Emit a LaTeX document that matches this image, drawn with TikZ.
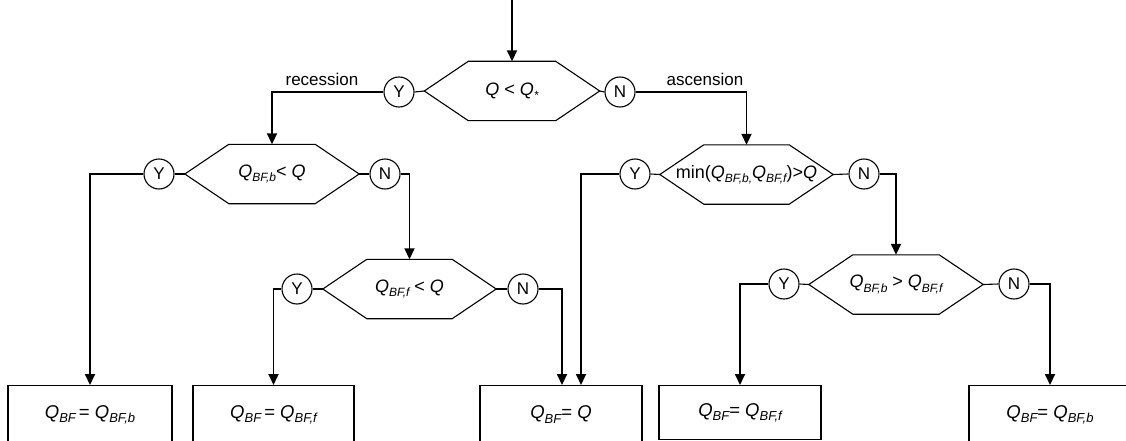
\documentclass[tikz,border=0pt]{standalone}
\usepackage{fontspec}
\setmainfont{Liberation Sans}
\usetikzlibrary{arrows.meta,calc}
\newcommand\sbt[1]{\raisebox{-0.45ex}{\fontsize{12}{12}\selectfont\itshape #1}}
\newcommand\sbb[1]{\raisebox{-0.45ex}{\fontsize{13}{13}\selectfont\itshape #1}}
\newcommand\Qi{\textit{Q}}
\newcommand\hexagon[5]{%
  \node[hexnode=#4] (#1) at (#2,#3) {#5};
  \draw[shapeline] (#1.west) -- ([xshift=44pt]#1.north west) -- ([xshift=-44pt]#1.north east)
    -- (#1.east) -- ([xshift=-44pt]#1.south east) -- ([xshift=44pt]#1.south west) -- cycle;}
\begin{document}
\begin{tikzpicture}[x=1pt,y=-1pt,
  shapeline/.style={line width=1.1pt},
  hexnode/.style={minimum width=#1, minimum height=59pt, inner sep=0pt, font=\fontsize{18}{18}\selectfont},
  yn/.style={circle, draw, line width=1.1pt, minimum size=30pt, inner sep=0pt, font=\fontsize{17}{17}\selectfont},
  res/.style={rectangle, draw, line width=1.3pt, minimum width=#1, inner sep=0pt, anchor=north, font=\fontsize{18.5}{18.5}\selectfont},
  conn/.style={line width=1.8pt},
  arr/.style={conn, -{Triangle[length=11pt,width=10pt]}},
  lbl/.style={font=\fontsize{17}{17}\selectfont}
]
\clip (0,0) rectangle (1126,441);

% decisions
\hexagon{h1}{512}{91}{175}{\Qi\ <\ \Qi\sbt{*}}
\hexagon{h2}{272}{174}{174}{\Qi\sbt{BF,b}< \Qi}
\hexagon{h3}{409.5}{289}{173}{\Qi\sbt{BF,f} < \Qi}
\hexagon{h4}{746.5}{174.5}{173}{min(\Qi\sbt{BF,b,}\Qi\sbt{BF,f})>\Qi}
\hexagon{h5}{896}{284.5}{174}{\Qi\sbt{BF,b} > \Qi\sbt{BF,f}}

% Y / N markers
\node[yn] (y1) at (399,92) {Y};
\node[yn] (n1) at (620,92) {N};
\node[yn] (y2) at (159,174) {Y};
\node[yn] (n2) at (385,174) {N};
\node[yn] (y3) at (297,289) {Y};
\node[yn] (n3) at (523,289) {N};
\node[yn] (y4) at (635,174) {Y};
\node[yn] (n4) at (864,174) {N};
\node[yn] (y5) at (784,284) {Y};
\node[yn] (n5) at (1014,284) {N};

% short links marker - hexagon
\foreach \a/\b in {y1/h1,y2/h2,y3/h3,y4/h4,y5/h5}{\draw[shapeline] (\a.east) -- (\b.west);}
\foreach \a/\b in {n1/h1,n2/h2,n3/h3,n4/h4,n5/h5}{\draw[shapeline] (\b.east) -- (\a.west);}

% results
\node[res=164, minimum height=58pt] (b1) at (90,385) {\Qi\sbb{BF}\,= \Qi\sbb{BF,b}};
\node[res=161, minimum height=58pt] (b2) at (273.5,385) {\Qi\sbb{BF}\,= \Qi\sbb{BF,f}};
\node[res=162, minimum height=58pt] (b3) at (561,385) {\Qi\sbb{BF}= \Qi};
\node[res=162, minimum height=54pt] (b4) at (740,385) {\Qi\sbb{BF}= \Qi\sbb{BF,f}};
\node[res=162, minimum height=58pt] (b5) at (1050,385) {\Qi\sbb{BF}= \Qi\sbb{BF,b}};

% connectors
\coordinate (start) at (512,0);
\draw[arr] (start) -- (h1.north);
\draw[arr] (y1.west) -| (h2.north);
\draw[arr] (n1.east) -| (h4.north);
\node[lbl] (rec) at (322,79) {recession};
\node[lbl] (asc) at (705,79) {ascension};
\draw[arr] (y2.west) -| (b1.north);
\draw[arr] (n2.east) -| (h3.north);
\draw[arr] (y3.west) -| (b2.north);
\draw[arr] (n3.east) -| ([xshift=1pt]b3.north);
\draw[arr] (y4.west) -| ([xshift=20pt]b3.north);
\draw[arr] (n4.east) -| (h5.north);
\draw[arr] (y5.west) -| (b4.north);
\draw[arr] (n5.east) -| (b5.north);
\end{tikzpicture}
\end{document}
